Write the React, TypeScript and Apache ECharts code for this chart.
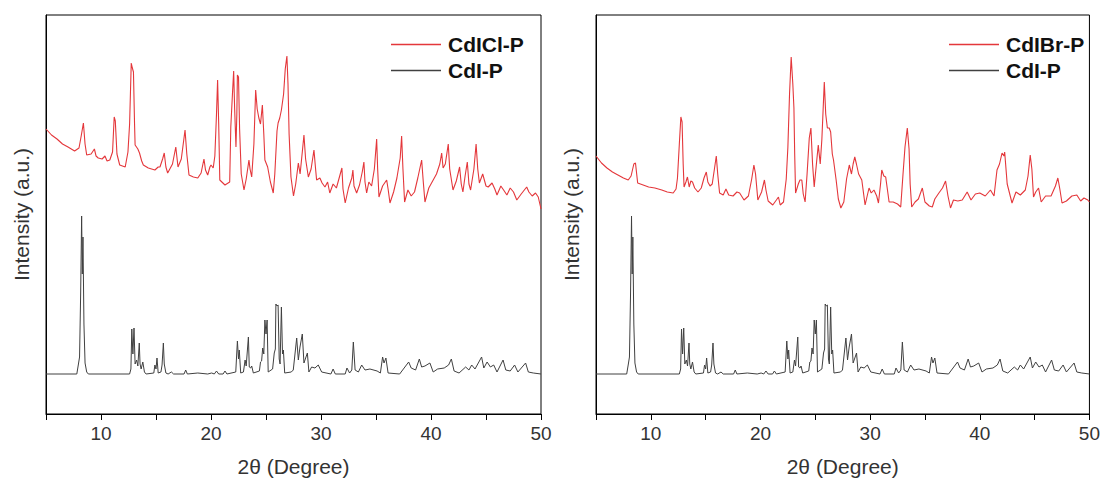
import React, { useEffect, useRef } from "react";
import * as echarts from "echarts";

// 2θ (degree), intensity (a.u.)
const cdIClP: number[][] = [
  [5.0,285],[5.5,279],[6.0,275],[6.5,270],[7.0,267],[7.6,263],[8.0,266],[8.2,278],[8.4,291],[8.55,270],[8.7,259],[9.1,260],[9.4,265],[9.55,258],[9.75,256],[10.1,255],[10.36,258],[10.55,253],[10.8,254],[11.05,262],[11.2,297],[11.3,293],[11.45,260],[11.7,249],[12.2,247],[12.45,262],[12.6,290],[12.75,351],[12.85,346],[12.95,342],[13.05,290],[13.1,269],[13.35,265],[13.5,261],[13.7,253],[13.85,249],[14.3,246],[14.9,244],[15.2,247],[15.36,247],[15.6,255],[15.75,261],[15.9,247],[16.06,241],[16.5,250],[16.8,267],[16.9,257],[17.0,247],[17.3,255],[17.64,284],[17.8,260],[18.0,239],[18.4,237],[18.8,236],[19.1,241],[19.36,255],[19.5,244],[19.7,239],[19.9,247],[20.0,249],[20.2,246],[20.35,258],[20.5,300],[20.6,334],[20.7,290],[20.8,234],[21.27,229],[21.7,232],[21.8,287],[21.95,320],[22.06,343],[22.15,305],[22.27,267],[22.35,300],[22.4,339],[22.5,337],[22.6,285],[22.75,240],[23.0,224],[23.2,235],[23.45,254],[23.55,245],[23.7,237],[23.9,270],[24.06,324],[24.2,305],[24.35,296],[24.5,290],[24.67,309],[24.8,280],[24.9,254],[25.15,247],[25.4,232],[25.66,221],[25.8,240],[26.0,283],[26.1,291],[26.25,296],[26.4,304],[26.6,320],[26.75,345],[26.9,358],[27.0,330],[27.1,280],[27.27,237],[27.5,218],[27.7,230],[27.94,251],[28.1,240],[28.3,262],[28.45,279],[28.6,255],[28.85,237],[29.1,245],[29.36,264],[29.5,246],[29.6,234],[29.9,236],[30.1,231],[30.36,227],[30.6,232],[30.8,221],[31.1,230],[31.4,226],[31.65,236],[31.9,246],[32.0,225],[32.2,211],[32.5,226],[32.8,236],[32.9,244],[33.0,228],[33.24,221],[33.5,229],[33.75,242],[33.9,252],[34.0,232],[34.15,221],[34.35,232],[34.6,228],[34.85,245],[35.06,275],[35.15,245],[35.27,217],[35.6,228],[35.97,234],[36.1,225],[36.27,211],[36.6,222],[36.9,236],[37.2,256],[37.33,278],[37.45,245],[37.6,212],[37.9,224],[38.2,218],[38.5,222],[38.8,236],[39.15,254],[39.3,232],[39.45,212],[39.8,226],[40.1,232],[40.5,240],[40.8,250],[40.97,261],[41.1,246],[41.3,250],[41.57,270],[41.7,245],[42.0,224],[42.3,233],[42.6,247],[42.75,230],[42.9,222],[43.1,238],[43.3,252],[43.45,230],[43.6,224],[43.9,245],[44.1,270],[44.25,245],[44.4,231],[44.7,240],[45.0,228],[45.2,227],[45.55,231],[45.8,225],[46.0,219],[46.35,228],[46.6,224],[46.9,219],[47.2,226],[47.5,222],[47.8,214],[48.2,220],[48.7,227],[48.9,222],[49.2,218],[49.5,221],[49.75,217],[50.0,205]
];

const cdIBrP: number[][] = [
  [5.0,258],[5.5,251],[6.0,246],[6.5,242],[7.0,239],[7.5,236],[7.94,234],[8.2,238],[8.45,250],[8.6,251],[8.8,231],[9.3,229],[9.8,227],[10.37,226],[11.0,224],[11.5,222],[12.04,221],[12.3,225],[12.43,236],[12.6,270],[12.74,297],[12.85,292],[12.95,250],[13.03,227],[13.2,232],[13.34,237],[13.5,227],[13.65,233],[13.8,232],[14.0,226],[14.3,222],[14.6,226],[14.85,236],[15.06,242],[15.2,232],[15.4,228],[15.6,230],[15.8,245],[15.97,258],[16.1,240],[16.27,221],[16.6,219],[16.85,225],[17.1,219],[17.5,218],[17.85,222],[18.1,221],[18.5,214],[18.9,218],[19.2,235],[19.4,249],[19.55,240],[19.76,214],[20.1,222],[20.36,234],[20.5,224],[20.7,213],[21.12,209],[21.45,214],[21.64,217],[21.8,209],[22.1,212],[22.35,235],[22.5,267],[22.65,320],[22.8,357],[22.95,330],[23.05,306],[23.12,260],[23.2,221],[23.45,230],[23.6,234],[23.77,234],[23.9,220],[24.07,212],[24.25,240],[24.45,276],[24.6,286],[24.75,250],[24.9,227],[25.1,250],[25.27,269],[25.45,250],[25.6,275],[25.82,332],[25.95,300],[26.1,286],[26.27,286],[26.4,282],[26.55,260],[26.66,254],[26.9,234],[27.1,215],[27.33,206],[27.6,212],[27.85,235],[28.1,249],[28.3,240],[28.45,250],[28.6,257],[28.75,250],[28.95,240],[29.24,234],[29.54,209],[29.9,226],[30.1,221],[30.35,224],[30.6,218],[30.76,211],[30.95,230],[31.06,244],[31.25,238],[31.42,237],[31.73,212],[32.1,212],[32.5,210],[32.79,207],[33.0,240],[33.18,267],[33.39,286],[33.55,265],[33.65,230],[33.79,207],[34.1,212],[34.4,215],[34.76,226],[35.0,212],[35.4,208],[35.67,207],[35.9,215],[36.27,221],[36.6,226],[36.88,233],[37.1,218],[37.33,206],[37.6,214],[38.0,213],[38.4,214],[38.85,222],[39.2,214],[39.6,220],[40.0,221],[40.5,218],[40.97,224],[41.3,218],[41.57,244],[41.8,250],[42.03,261],[42.2,258],[42.27,262],[42.5,230],[42.94,211],[43.3,222],[43.7,219],[44.15,224],[44.4,238],[44.6,259],[44.75,245],[44.9,217],[45.1,222],[45.36,226],[45.6,212],[46.0,218],[46.5,218],[46.9,228],[47.12,236],[47.3,225],[47.5,211],[47.9,213],[48.4,218],[48.85,219],[49.2,213],[49.5,216],[49.85,214],[50.0,212]
];

const cdIP: number[][] = [
  [5.0,40],[7.8,40],[7.95,50],[8.05,57],[8.15,120],[8.24,198],[8.3,140],[8.36,177],[8.45,90],[8.55,51],[8.7,42],[8.85,40],[12.6,40],[12.72,45],[12.8,85],[12.9,60],[13.0,86],[13.1,50],[13.24,54],[13.35,48],[13.48,71],[13.55,50],[13.65,45],[13.8,52],[13.95,42],[14.1,40],[14.8,41],[14.9,49],[15.0,45],[15.09,56],[15.2,41],[15.45,42],[15.55,49],[15.67,71],[15.75,50],[15.9,41],[16.1,40],[16.4,42],[16.6,40],[17.55,40],[17.7,44],[17.85,40],[18.8,41],[19.7,40],[20.06,41],[20.3,40],[20.5,43],[20.7,40],[21.1,40],[21.27,43],[21.45,40],[22.25,42],[22.4,73],[22.5,55],[22.57,64],[22.7,41],[22.95,42],[23.1,54],[23.2,48],[23.4,77],[23.48,47],[23.6,46],[23.7,48],[23.85,41],[24.4,43],[24.5,52],[24.6,53],[24.7,66],[24.8,60],[24.9,94],[25.0,80],[25.1,94],[25.2,42],[25.6,45],[25.75,61],[25.85,65],[25.9,110],[26.0,108],[26.1,109],[26.2,55],[26.28,50],[26.4,107],[26.5,60],[26.58,64],[26.7,41],[27.3,42],[27.48,44],[27.79,76],[27.94,54],[28.09,67],[28.3,80],[28.45,51],[28.76,61],[28.9,42],[29.15,47],[29.45,46],[29.75,49],[30.06,42],[30.9,40],[31.1,45],[31.3,40],[32.2,40],[32.36,46],[32.6,41],[32.8,44],[32.94,72],[33.1,44],[33.4,42],[33.7,49],[34.0,44],[34.45,45],[35.1,43],[35.4,41],[35.6,57],[35.73,51],[35.9,56],[36.1,41],[37.15,40],[37.97,52],[38.2,46],[38.6,44],[38.94,55],[39.15,47],[39.45,48],[39.9,51],[40.2,42],[40.6,45],[41.2,46],[41.6,49],[41.85,55],[42.1,43],[42.55,41],[43.15,47],[43.45,44],[43.7,49],[44.0,45],[44.3,51],[44.6,57],[44.8,46],[45.1,52],[45.4,47],[45.7,49],[46.0,42],[46.55,54],[46.8,44],[47.2,43],[47.6,49],[47.9,42],[48.6,51],[48.85,42],[49.3,41],[50.0,40]
];

const xTickLabels = [10, 20, 30, 40, 50];
const xName = "2θ (Degree)";
const yName = "Intensity (a.u.)";
const panels = [
  { red: "CdICl-P", redData: cdIClP },
  { red: "CdIBr-P", redData: cdIBrP },
];
const blackName = "CdI-P";

const RED = "#e4373b";
const BLACK = "#404040";
const FONT = "Arial, 'Liberation Sans', sans-serif";

export default function App() {
  const ref = useRef<HTMLDivElement>(null);
  useEffect(() => {
    if (!ref.current) return;
    const chart = echarts.init(ref.current, undefined, { renderer: "svg" });
    const grids = [
      { left: 46, top: 15, width: 495, height: 399 },
      { left: 596, top: 15, width: 494, height: 399 },
    ];
    const option: any = {
      animation: false,
      backgroundColor: "#fff",
      grid: grids.map((g) => ({ ...g, show: true, borderColor: "#000", borderWidth: 1, backgroundColor: "transparent" })),
      xAxis: grids.map((_, i) => ({
        type: "value",
        gridIndex: i,
        min: 5,
        max: 50,
        interval: 5,
        axisLine: { show: true, onZero: false, lineStyle: { color: "#000", width: 1 } },
        axisTick: { show: true, inside: false, length: 6, lineStyle: { color: "#000" } },
        axisLabel: {
          formatter: (v: number) => (xTickLabels.includes(v) ? String(v) : ""),
          fontSize: 19,
          color: "#333",
          fontFamily: FONT,
          margin: 10,
        },
        splitLine: { show: false },
        name: xName,
        nameLocation: "middle",
        nameGap: 42,
        nameTextStyle: { fontSize: 21, color: "#333", fontFamily: FONT },
      })),
      yAxis: grids.map((_, i) => ({
        type: "value",
        gridIndex: i,
        min: 0,
        max: 399,
        axisLine: { show: true, lineStyle: { color: "#000", width: 1 } },
        axisTick: { show: false },
        axisLabel: { show: false },
        splitLine: { show: false },
        name: yName,
        nameLocation: "middle",
        nameGap: 14,
        nameTextStyle: { fontSize: 21, color: "#333", fontFamily: FONT },
      })),
      legend: panels.map((p, i) => ({
        data: [p.red, blackName],
        orient: "vertical",
        left: i === 0 ? 386 : 944,
        top: 29,
        icon: "rect",
        itemWidth: 50,
        itemHeight: 1.5,
        itemGap: 5,
        selectedMode: false,
        textStyle: { fontSize: 21, fontWeight: "bold", color: "#111", fontFamily: FONT, padding: [0, 0, 0, 2] },
      })),
      series: panels.flatMap((p, i) => [
        {
          name: p.red,
          type: "line",
          xAxisIndex: i,
          yAxisIndex: i,
          data: p.redData,
          showSymbol: false,
          symbol: "none",
          lineStyle: { color: RED, width: 1.1 },
          itemStyle: { color: RED },
          color: RED,
        },
        {
          name: blackName,
          type: "line",
          xAxisIndex: i,
          yAxisIndex: i,
          data: cdIP,
          showSymbol: false,
          symbol: "none",
          lineStyle: { color: BLACK, width: 1 },
          itemStyle: { color: BLACK },
          color: BLACK,
        },
      ]),
    };
    chart.setOption(option);
    return () => chart.dispose();
  }, []);
  return (
    <div
      ref={ref}
      style={{ position: "fixed", left: 0, top: 0, width: 1103, height: 485, background: "#fff" }}
    />
  );
}
